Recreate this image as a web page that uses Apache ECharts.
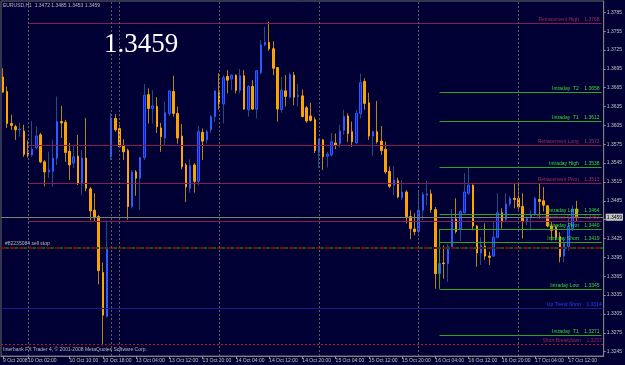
<!DOCTYPE html>
<html><head><meta charset="utf-8">
<script src="https://cdn.jsdelivr.net/npm/echarts@6/dist/echarts.min.js"></script>
<style>html,body{margin:0;padding:0;background:#000035;}#c{width:625px;height:365px;}</style>
</head><body><div id="c"></div>
<script>
// trading sessions (day, first hour, last hour) -> hourly categories (last 6 of 17 Oct are empty chart-shift slots)
const sessions = [['9 Oct',18,23],['10 Oct',0,21],['13 Oct',0,23],['14 Oct',0,23],['15 Oct',0,23],['16 Oct',0,23],['17 Oct',0,20]];
const categories = [];
sessions.forEach(([d,h0,h1]) => { for (let h = h0; h <= h1; h++) categories.push(d + ' ' + String(h).padStart(2,'0') + ':00'); });

const open = [1.3682,1.3659,1.3608,1.3603,1.3598,1.3596,1.3561,1.3558,1.3569,1.3590,1.3547,1.3531,1.3532,1.3553,1.3611,1.3610,1.3564,1.3545,1.3556,1.3514,1.3553,1.3504,1.3470,1.3460,1.3371,1.3301,1.3555,1.3616,1.3600,1.3572,1.3565,1.3476,1.3531,1.3521,1.3554,1.3654,1.3632,1.3635,1.3601,1.3585,1.3624,1.3659,1.3624,1.3588,1.3542,1.3505,1.3542,1.3516,1.3594,1.3582,1.3598,1.3619,1.3657,1.3639,1.3683,1.3679,1.3685,1.3661,1.3684,1.3630,1.3667,1.3631,1.3689,1.3733,1.3737,1.3727,1.3697,1.3630,1.3660,1.3650,1.3685,1.3651,1.3652,1.3633,1.3620,1.3614,1.3562,1.3582,1.3556,1.3558,1.3577,1.3576,1.3597,1.3620,1.3595,1.3577,1.3624,1.3675,1.3641,1.3588,1.3595,1.3580,1.3567,1.3532,1.3510,1.3517,1.3490,1.3499,1.3460,1.3440,1.3436,1.3470,1.3494,1.3496,1.3471,1.3369,1.3386,1.3385,1.3412,1.3456,1.3440,1.3466,1.3497,1.3510,1.3445,1.3402,1.3413,1.3397,1.3397,1.3427,1.3466,1.3455,1.3480,1.3489,1.3489,1.3476,1.3453,1.3460,1.3464,1.3487,1.3485,1.3477,1.3445,1.3443,1.3428,1.3397,1.3412,1.3441,1.3472];
const high = [1.3696,1.3667,1.3622,1.3606,1.3609,1.3606,1.3581,1.3612,1.3603,1.3593,1.3550,1.3563,1.3582,1.3651,1.3636,1.3614,1.3577,1.3574,1.3590,1.3566,1.3617,1.3507,1.3497,1.3462,1.3387,1.3454,1.3625,1.3623,1.3606,1.3583,1.3568,1.3534,1.3534,1.3555,1.3671,1.3664,1.3661,1.3650,1.3609,1.3643,1.3661,1.3684,1.3635,1.3607,1.3545,1.3551,1.3545,1.3604,1.3600,1.3598,1.3622,1.3661,1.3688,1.3685,1.3693,1.3686,1.3686,1.3695,1.3693,1.3669,1.3677,1.3693,1.3741,1.3762,1.3770,1.3739,1.3698,1.3682,1.3685,1.3689,1.3690,1.3671,1.3662,1.3636,1.3641,1.3618,1.3584,1.3583,1.3563,1.3593,1.3592,1.3606,1.3630,1.3624,1.3611,1.3630,1.3687,1.3680,1.3657,1.3597,1.3644,1.3604,1.3579,1.3540,1.3540,1.3522,1.3518,1.3502,1.3470,1.3465,1.3499,1.3499,1.3517,1.3503,1.3475,1.3412,1.3414,1.3416,1.3472,1.3489,1.3470,1.3529,1.3538,1.3511,1.3446,1.3427,1.3449,1.3404,1.3452,1.3497,1.3473,1.3497,1.3492,1.3513,1.3515,1.3497,1.3460,1.3470,1.3491,1.3513,1.3507,1.3478,1.3451,1.3446,1.3435,1.3427,1.3457,1.3478,1.3485];
const low = [1.3657,1.3601,1.3598,1.3582,1.3587,1.3555,1.3554,1.3555,1.3567,1.3545,1.3508,1.3521,1.3507,1.3542,1.3585,1.3547,1.3518,1.3537,1.3510,1.3494,1.3500,1.3454,1.3453,1.3352,1.3255,1.3299,1.3550,1.3595,1.3569,1.3550,1.3455,1.3473,1.3493,1.3470,1.3550,1.3608,1.3608,1.3593,1.3563,1.3574,1.3620,1.3619,1.3576,1.3535,1.3483,1.3498,1.3498,1.3510,1.3550,1.3576,1.3593,1.3611,1.3630,1.3608,1.3656,1.3661,1.3656,1.3656,1.3630,1.3619,1.3630,1.3616,1.3686,1.3731,1.3724,1.3685,1.3611,1.3625,1.3635,1.3648,1.3637,1.3635,1.3618,1.3609,1.3611,1.3561,1.3537,1.3534,1.3538,1.3555,1.3567,1.3570,1.3590,1.3579,1.3571,1.3576,1.3616,1.3630,1.3582,1.3556,1.3576,1.3558,1.3528,1.3505,1.3494,1.3489,1.3486,1.3449,1.3424,1.3430,1.3433,1.3454,1.3478,1.3466,1.3345,1.3364,1.3361,1.3356,1.3409,1.3433,1.3421,1.3465,1.3494,1.3438,1.3380,1.3383,1.3391,1.3383,1.3396,1.3425,1.3441,1.3452,1.3476,1.3473,1.3471,1.3425,1.3446,1.3438,1.3461,1.3457,1.3468,1.3443,1.3422,1.3422,1.3387,1.3387,1.3406,1.3437,1.3453];
const close = [1.3658,1.3608,1.3605,1.3598,1.3599,1.3559,1.3557,1.3567,1.3588,1.3547,1.3531,1.3534,1.3553,1.3611,1.3609,1.3562,1.3542,1.3555,1.3513,1.3553,1.3505,1.3469,1.3459,1.3374,1.3303,1.3411,1.3617,1.3598,1.3571,1.3563,1.3476,1.3531,1.3521,1.3554,1.3653,1.3632,1.3636,1.3603,1.3587,1.3625,1.3660,1.3624,1.3585,1.3539,1.3507,1.3541,1.3516,1.3595,1.3580,1.3595,1.3619,1.3660,1.3639,1.3681,1.3677,1.3685,1.3661,1.3684,1.3631,1.3667,1.3631,1.3692,1.3733,1.3737,1.3727,1.3696,1.3631,1.3661,1.3651,1.3686,1.3650,1.3653,1.3619,1.3612,1.3613,1.3565,1.3583,1.3555,1.3559,1.3579,1.3574,1.3596,1.3619,1.3592,1.3579,1.3624,1.3673,1.3640,1.3588,1.3595,1.3579,1.3565,1.3531,1.3508,1.3518,1.3491,1.3499,1.3460,1.3441,1.3436,1.3470,1.3495,1.3496,1.3471,1.3369,1.3385,1.3385,1.3412,1.3456,1.3436,1.3468,1.3499,1.3510,1.3445,1.3402,1.3414,1.3397,1.3395,1.3427,1.3466,1.3452,1.3480,1.3489,1.3487,1.3475,1.3452,1.3457,1.3462,1.3489,1.3484,1.3478,1.3445,1.3438,1.3427,1.3396,1.3417,1.3444,1.3472,1.3459];

const yTickValues = [1.3245,1.3275,1.3305,1.3335,1.3365,1.3395,1.3425,1.3455,1.3485,1.3515,1.3545,1.3575,1.3605,1.3635,1.3665,1.3695,1.3725,1.3755,1.3785];
const xTickIdx = [0,6,16,24,32,40,48,56,64,72,80,88,96,104,112,120,128,136];
const xTickLabels = ['9 Oct 2008','10 Oct 02:00','10 Oct 10:00','10 Oct 18:00','13 Oct 04:00','13 Oct 12:00','13 Oct 20:00','14 Oct 04:00','14 Oct 12:00','14 Oct 20:00','15 Oct 04:00','15 Oct 12:00','15 Oct 20:00','16 Oct 04:00','16 Oct 12:00','16 Oct 20:00','17 Oct 04:00','17 Oct 12:00'];

const levelNames  = ['Retracement High','Intraday  T2','Intraday  T1','Retracement Long','Intraday High','Retracement Pivot','Intraday Long','Retracement Short','Intraday Pivot','Intraday Short','Intraday Low','Up Trend Short','Intraday  T1','Short Breakdown'];
const levelValues = [1.3768,1.3658,1.3612,1.3573,1.3538,1.3513,1.3464,1.3453,1.3440,1.3419,1.3345,1.3314,1.3271,1.3257];
const levelKinds  = ['retr','intra','intra','retr','intra','retr','intra','retr','intra','intra','intra','trend','intra','stop'];
const sellStopValue = 1.3410;
const sellStopText = '#82235084 sell stop';
const separatorIdx = [6,26,28,52,76,100,124];
const retrStartIdx = 6, intraStartIdx = 105;

const SF = '"Liberation Sans", Arial, sans-serif';
const n = open.length;
const last = n - 1;
const lastCat = categories[categories.length - 1];
const bodyData = open.map((o,i) => [o, close[i], Math.min(o, close[i]), Math.max(o, close[i])]);
const wickData = open.map((o,i) => [o, close[i], low[i], high[i]]);

const kindStyle = {
  retr:  {line:'#8a1c4c', text:'#a02c64', type:'solid'},
  intra: {line:'#22a822', text:'#33dd33', type:'solid'},
  trend: {line:'#1c1c88', text:'#2a40ff', type:'solid'},
  stop:  {line:'#b81a1a', text:'#a0205a', type:[2,2]}
};
const groups = {retr:[], intra:[], trend:[], stop:[]};
levelNames.forEach((name, k) => {
  const kind = levelKinds[k], v = levelValues[k];
  const label = {show:true, position:'insideEndTop', formatter: name + '    ' + v.toFixed(4)};
  if (kind === 'retr' || kind === 'intra') {
    const s = categories[kind === 'retr' ? retrStartIdx : intraStartIdx];
    groups[kind].push([{coord:[s, v], label}, {coord:[lastCat, v]}]);
  } else {
    groups[kind].push({yAxis: v, label});
  }
});
// vertical connector of intraday lines (pivot to low)
groups.intra.push([{coord:[categories[intraStartIdx], levelValues[8]], label:{show:false}}, {coord:[categories[intraStartIdx], levelValues[10]]}]);

function markSeries(name, lineStyle, labelColor, data, z) {
  return {type:'line', name, data:close, symbol:'none', showSymbol:false, lineStyle:{opacity:0}, silent:true, z: z || 1,
    color: lineStyle.color,
    markLine:{symbol:['none','none'], precision:4, silent:true, animation:false,
      lineStyle: Object.assign({opacity:1}, lineStyle),
      label:{show:true, color:labelColor, fontSize:5, fontFamily:SF, distance:[2,1]},
      emphasis:{disabled:true}, data}};
}

const series = [];
Object.keys(groups).forEach(kind => {
  const st = kindStyle[kind];
  series.push(markSeries(kind, {color:st.line, width:1, type:st.type}, st.text, groups[kind]));
});
series.push(markSeries('sellstop', {color:'#7a0a0a', width:2, type:[5,4]}, '#b8b8b8',
  [{yAxis: sellStopValue, label:{show:true, position:'insideStartTop', formatter: sellStopText, distance:[4,2]}}]));
series.push(markSeries('sellstop2', {color:'#0b5e0b', width:2, type:[3,6], dashOffset:-5}, '#b8b8b8',
  [{yAxis: sellStopValue, label:{show:false}}]));
series.push(markSeries('separators', {color:'#5e5e5e', width:1, type:[2,2]}, '#888',
  separatorIdx.map(i => ({xAxis: categories[i], label:{show:false}}))));
series.push(markSeries('bid', {color:'#80806e', width:1, type:'solid'}, '#000',
  [{yAxis: close[last], label:{show:true, position:'end', formatter: close[last].toFixed(4), backgroundColor:'#c4c4c4', padding:[1,1], distance:2}}]));
series.push({type:'candlestick', name:'wick', data:wickData, barWidth:1, z:3,
  itemStyle:{color:'#1f4f7e', color0:'#b8860b', borderColor:'#1f4f7e', borderColor0:'#b8860b', borderWidth:1}});
series.push({type:'candlestick', name:'body', data:bodyData, barWidth:2, z:4,
  itemStyle:{color:'#0a22d0', color0:'#f5a000', borderColor:'#2a5cff', borderColor0:'#ffa500', borderWidth:1}});

const chart = echarts.init(document.getElementById('c'), null, {renderer:'canvas'});
chart.setOption({
  animation:false,
  backgroundColor:'#000035',
  title:{text:'EURUSD,H1  ' + [open[last],high[last],low[last],close[last]].map(v=>v.toFixed(4)).join(' '), left:3, top:3, padding:0, textStyle:{fontSize:5, color:'#b8b8b8', fontWeight:'normal', fontFamily:SF}},
  grid:{left:1, right:21, top:1, bottom:9, show:true, borderColor:'#6a6a6a', borderWidth:1, backgroundColor:'transparent'},
  xAxis:{type:'category', data:categories, boundaryGap:true,
    axisLine:{lineStyle:{color:'#808080'}},
    axisTick:{show:true, alignWithLabel:true, length:3, interval:(i)=>xTickIdx.indexOf(i)>=0, lineStyle:{color:'#909090'}},
    axisLabel:{interval:(i)=>xTickIdx.indexOf(i)>=0, formatter:(v,i)=>xTickLabels[xTickIdx.indexOf(i)], align:'left', margin:2, fontSize:5, color:'#c0c0c0', fontFamily:SF},
    splitLine:{show:false}},
  yAxis:{type:'value', position:'right', min:1.3238, max:1.3803, scale:true,
    axisLine:{show:true, lineStyle:{color:'#808080'}},
    axisTick:{show:true, length:2, customValues:yTickValues, lineStyle:{color:'#909090'}},
    axisLabel:{customValues:yTickValues, formatter:(v)=>v.toFixed(4), margin:3, fontSize:5, color:'#c0c0c0', fontFamily:SF},
    splitLine:{show:false}},
  graphic:[
    {type:'text', left:104, top:31, z:100, style:{text: close[last].toFixed(4), fill:'#ffffff', font:'27px "Liberation Serif", "DejaVu Serif", serif'}},
    {type:'text', left:3, top:347, z:100, style:{text:'Interbank FX Trader 4, \u00a9 2001-2008 MetaQuotes Software Corp.', fill:'#b8b8b8', font:'5px ' + SF}}
  ],
  series
});
</script></body></html>
